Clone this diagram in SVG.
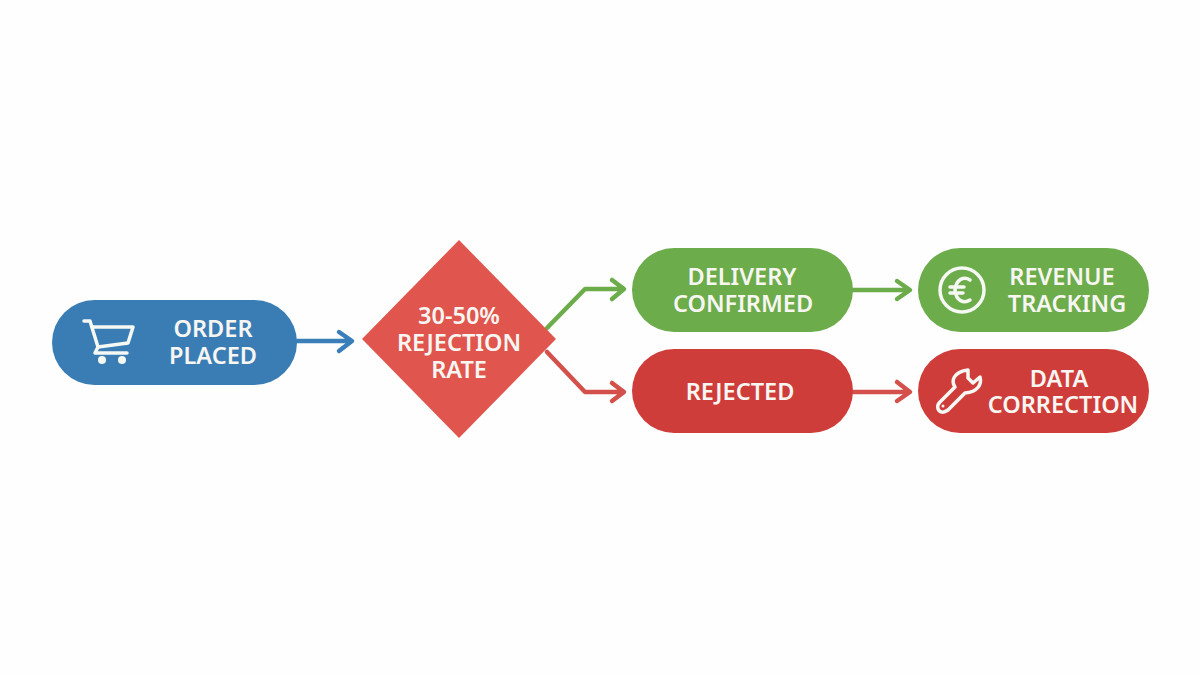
<svg xmlns="http://www.w3.org/2000/svg" width="1200" height="675" viewBox="0 0 1200 675">
<style>
text{font-family:"Noto Sans","Open Sans","Liberation Sans",sans-serif;font-weight:600;font-size:23.5px;fill:#f8f6f2;text-anchor:middle}
.c{fill:none;stroke-width:4.500;stroke-linecap:round;stroke-linejoin:round}
.i{fill:none;stroke:#f6f8f4;stroke-width:3.500;stroke-linecap:round;stroke-linejoin:round}
.b{stroke:#3a7fb9}.g{stroke:#6cac4a}.r{stroke:#d4504a}
</style>
<rect width="1200" height="675" fill="#fefefe"/>
<g id="connectors">
<path class="c b" d="M297 341H351M339 332L352 341L339 351"/>
<path class="c g" d="M547 328L585 289H623M612 280L624 289L612 299"/>
<path class="c r" d="M547 352L585 392H623M612 383L624 392L612 401"/>
<path class="c g" d="M853 290H909M897 281L910 290L897 299"/>
<path class="c r" d="M853 392H909M897 382L910 392L897 401"/>
</g>
<g id="order-placed">
<rect x="52" y="300" width="245" height="85" rx="42.500" fill="#3a7db5"/>
<g class="i"><path d="M84 321H90L98 347L95 353H127"/><path d="M92 327H133L128 343L98 347"/></g>
<circle cx="102" cy="360" r="4" fill="#f6f8f4"/><circle cx="122" cy="360" r="4" fill="#f6f8f4"/>
<text y="337"><tspan x="213">ORDER</tspan><tspan x="213" y="364">PLACED</tspan></text>
</g>
<g id="rejection-rate">
<path d="M459 240L556 339L459 438L362 339Z" fill="#e0564e"/>
<text y="324"><tspan x="459">30-50%</tspan><tspan x="459" y="351">REJECTION</tspan><tspan x="459" y="378">RATE</tspan></text>
</g>
<g id="delivery-confirmed">
<rect x="632" y="248" width="221" height="84" rx="42" fill="#6cac4a"/>
<text y="285"><tspan x="742">DELIVERY</tspan><tspan x="743" y="312">CONFIRMED</tspan></text>
</g>
<g id="rejected">
<rect x="632" y="349" width="221" height="84" rx="42" fill="#cf3d3a"/>
<text x="740" y="400">REJECTED</text>
</g>
<g id="revenue-tracking">
<rect x="918" y="248" width="231" height="84" rx="42" fill="#6cac4a"/>
<circle class="i" cx="962" cy="290" r="22"/>
<path class="i" d="M970 280C964 276 956 279 955 290C956 301 964 304 970 300M950 287H964M950 293H963"/>
<text y="285"><tspan x="1062">REVENUE</tspan><tspan x="1067" y="312">TRACKING</tspan></text>
</g>
<g id="data-correction">
<rect x="918" y="349" width="231" height="84" rx="42" fill="#cf3d3a"/>
<path class="i" d="M968 370L968 378L973 383L980 377C982 384 978 392 965 393L948 410C944 413 940 413 938 409C937 406 938 404 940 402L955 387C951 381 953 372 968 370Z" stroke-width="3"/>
<circle cx="943" cy="406" r="1.500" fill="#f6f8f4"/>
<text y="387"><tspan x="1059">DATA</tspan><tspan x="1063" y="413">CORRECTION</tspan></text>
</g>
</svg>
